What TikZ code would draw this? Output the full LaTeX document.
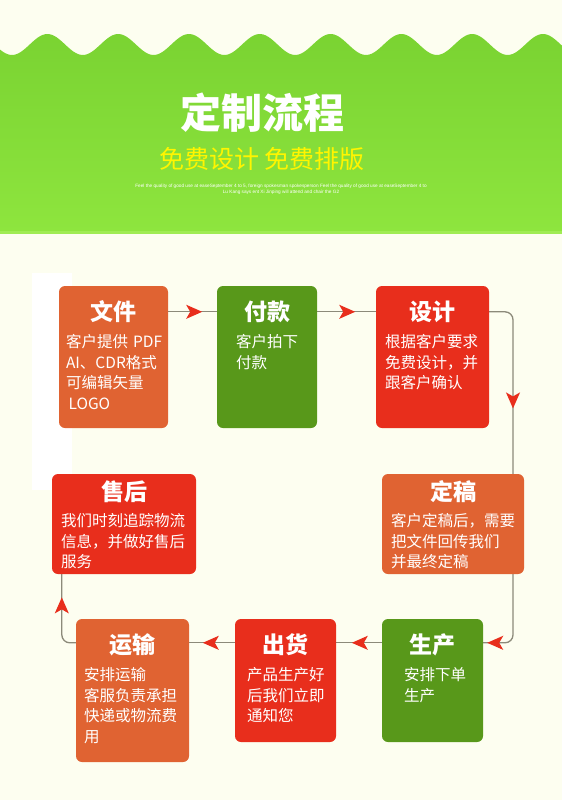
\documentclass[tikz,border=0pt]{standalone}
\usepackage{fontspec}
\setmainfont{Liberation Sans}
\newfontfamily\cjk{Noto Sans CJK SC}
\usetikzlibrary{arrows.meta,decorations.markings,calc}
\definecolor{cream}{RGB}{253,254,240}
\definecolor{boxorange}{RGB}{224,99,50}
\definecolor{boxgreen}{RGB}{88,152,26}
\definecolor{boxred}{RGB}{232,46,28}
\definecolor{linegray}{RGB}{140,138,122}
\definecolor{greentop}{RGB}{122,211,50}
\definecolor{greenbot}{RGB}{142,229,62}
\definecolor{greenedge}{RGB}{160,236,84}
\definecolor{subyellow}{RGB}{255,245,0}
\pgfdeclarelayer{back}
\pgfdeclarelayer{lines}
\pgfsetlayers{back,lines,main}
\newcommand\rhead{\arrow{Stealth[length=16pt,width=14pt,inset=4pt,color=boxred]}}
\tikzset{
  card/.style={rounded corners=6pt, inner sep=0pt, draw=none},
  cardtitle/.style={anchor=base, text=white, inner sep=0pt, font=\cjk\bfseries\fontsize{23}{23}\selectfont},
  cardbody/.style={anchor=base west, text=white, inner sep=0pt, align=left, text width=140pt, font=\cjk\fontsize{15.5}{20.5}\selectfont},
  conn/.style={draw=linegray, line width=1.3pt},
  headat/.style={postaction={decorate}, decoration={markings, mark=at position #1 with {\rhead}}}
}
\begin{document}
\begin{tikzpicture}[x=1pt,y=-1pt]
\useasboundingbox (0,0) rectangle (562,800);
\begin{pgfonlayer}{back}
  \fill[cream] (0,0) rectangle (562,800);
  \shade[top color=greentop, bottom color=greenbot]
    plot[domain=0:562, samples=240, smooth] (\x, {44.5+10.5*cos((\x-12)*5.0847)})
    -- (562,232) -- (0,232) -- cycle;
  \fill[greenedge] (0,231) rectangle (562,233.5);
  \fill[white] (32,273) rectangle (72,490);
\end{pgfonlayer}

% header texts
\node[anchor=base, text=white, inner sep=0pt, font=\cjk\bfseries\fontsize{41}{41}\selectfont] (title) at (262,128.6) {定制流程};
\node[anchor=base, text=subyellow, inner sep=0pt, font=\cjk\fontsize{25}{25}\selectfont] (sub) at (262,168.5) {免费设计 免费排版};
\node[text=white, inner sep=0pt, align=center, font=\fontsize{4.7}{6.5}\selectfont] (small) at (281,189.5)
  {Feel the quality of good use at easeSeptember 4 to 5, foreign spokesman spokesperson Feel the quality of good use at easeSeptember 4 to\\Lu Kang says ent Xi Jinping will attend and chair the G2};

% cards
\node[card, fill=boxorange, minimum width=109pt, minimum height=142pt] (wj) at (113.5,357) {};
\node[card, fill=boxgreen,  minimum width=100pt, minimum height=142pt] (fk) at (267,357) {};
\node[card, fill=boxred,    minimum width=113pt, minimum height=142pt] (sj) at (432.5,357) {};
\node[card, fill=boxred,    minimum width=144pt, minimum height=100pt] (sh) at (124,524) {};
\node[card, fill=boxorange, minimum width=142pt, minimum height=100pt] (dg) at (453,524) {};
\node[card, fill=boxgreen,  minimum width=101pt, minimum height=123pt] (sc) at (432.5,680.5) {};
\node[card, fill=boxred,    minimum width=101pt, minimum height=123pt] (ch) at (285.5,680.5) {};
\node[card, fill=boxorange, minimum width=113pt, minimum height=143pt] (ys) at (132.5,690.5) {};

% titles
\node[cardtitle] (wjt) at ([yshift=-35pt]wj.north) {文件};
\node[cardtitle] (fkt) at ([yshift=-35pt]fk.north) {付款};
\node[cardtitle] (sjt) at ([yshift=-35pt]sj.north) {设计};
\node[cardtitle] (sht) at ([yshift=-27pt]sh.north) {售后};
\node[cardtitle] (dgt) at ([yshift=-27pt]dg.north) {定稿};
\node[cardtitle] (sct) at ([yshift=-35pt]sc.north) {生产};
\node[cardtitle] (cht) at ([yshift=-35pt]ch.north) {出货};
\node[cardtitle] (yst) at ([yshift=-35pt]ys.north) {运输};

% bodies
\node[cardbody] (wjb) at ([xshift=7pt,yshift=-62pt]wj.north west) {客户提供 PDF\\AI、CDR格式\\可编辑矢量\\\,LOGO};
\node[cardbody] (fkb) at ([xshift=19pt,yshift=-62pt]fk.north west) {客户拍下\\付款};
\node[cardbody] (sjb) at ([xshift=9pt,yshift=-62pt]sj.north west) {根据客户要求\\免费设计，并\\跟客户确认};
\node[cardbody] (shb) at ([xshift=9pt,yshift=-53pt]sh.north west) {我们时刻追踪物流\\信息，并做好售后\\服务};
\node[cardbody] (dgb) at ([xshift=9pt,yshift=-53pt]dg.north west) {客户定稿后，需要\\把文件回传我们\\并最终定稿};
\node[cardbody] (scb) at ([xshift=22pt,yshift=-62pt]sc.north west) {安排下单\\生产};
\node[cardbody] (chb) at ([xshift=12pt,yshift=-62pt]ch.north west) {产品生产好\\后我们立即\\通知您};
\node[cardbody] (ysb) at ([xshift=8pt,yshift=-62pt]ys.north west) {安排运输\\客服负责承担\\快递或物流费\\用};

% connectors
\coordinate (rr) at (513,0);
\coordinate (sjo) at ([yshift=-26pt]sj.north east);
\coordinate (sci) at ([yshift=-24pt]sc.north east);
\coordinate (yso) at ([yshift=-24pt]ys.north west);
\coordinate (shi) at ([xshift=10pt]sh.south west);
\begin{pgfonlayer}{lines}
  \draw[conn, headat=34pt] ([yshift=-26pt]wj.north east) -- ([yshift=-26pt]fk.north west);
  \draw[conn, headat=38pt] ([yshift=-26pt]fk.north east) -- ([yshift=-26pt]sj.north west);
  \draw[conn, rounded corners=8pt, postaction={decorate},
        decoration={markings, mark=at position 117pt with {\rhead}, mark=at position -4pt with {\rhead}}]
    (sjo) -- (sjo -| rr) -- (rr |- sci) -- (sci);
  \draw[conn, headat=30pt] ([yshift=-24pt]sc.north west) -- ([yshift=-24pt]ch.north east);
  \draw[conn, headat=32pt] ([yshift=-24pt]ch.north west) -- ([yshift=-24pt]ys.north east);
  \draw[conn, rounded corners=8pt, headat=56pt] (yso) -| (shi);
\end{pgfonlayer}
\end{tikzpicture}
\end{document}
